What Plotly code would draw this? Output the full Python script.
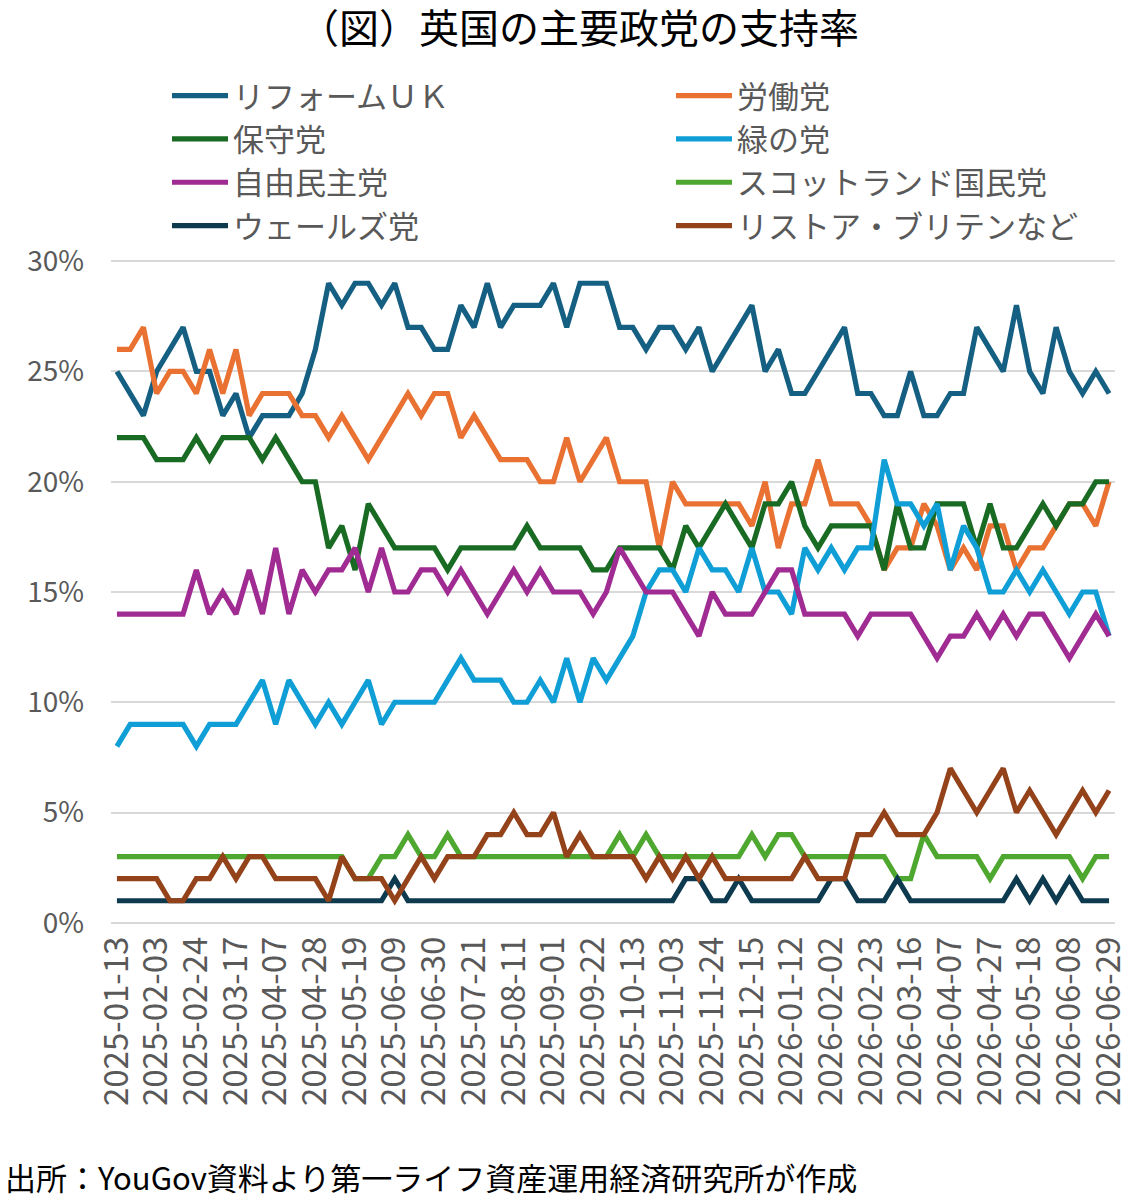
import plotly.graph_objects as go

dates = [
    "2025-01-13", "2025-01-20", "2025-01-27", "2025-02-03", "2025-02-10", "2025-02-17",
    "2025-02-24", "2025-03-03", "2025-03-10", "2025-03-17", "2025-03-24", "2025-03-31",
    "2025-04-07", "2025-04-14", "2025-04-21", "2025-04-28", "2025-05-05", "2025-05-12",
    "2025-05-19", "2025-05-26", "2025-06-02", "2025-06-09", "2025-06-16", "2025-06-23",
    "2025-06-30", "2025-07-07", "2025-07-14", "2025-07-21", "2025-07-28", "2025-08-04",
    "2025-08-11", "2025-08-18", "2025-08-25", "2025-09-01", "2025-09-08", "2025-09-15",
    "2025-09-22", "2025-09-29", "2025-10-06", "2025-10-13", "2025-10-20", "2025-10-27",
    "2025-11-03", "2025-11-10", "2025-11-17", "2025-11-24", "2025-12-01", "2025-12-08",
    "2025-12-15", "2025-12-22", "2026-01-05", "2026-01-12", "2026-01-19", "2026-01-26",
    "2026-02-02", "2026-02-09", "2026-02-16", "2026-02-23", "2026-03-02", "2026-03-09",
    "2026-03-16", "2026-03-23", "2026-03-30", "2026-04-07", "2026-04-13", "2026-04-20",
    "2026-04-27", "2026-05-04", "2026-05-11", "2026-05-18", "2026-05-25", "2026-06-01",
    "2026-06-08", "2026-06-15", "2026-06-22", "2026-06-29",
]

reform_uk = [25, 24, 23, 25, 26, 27, 25, 25, 23, 24, 22, 23, 23, 23, 24, 26, 29, 28, 29,
             29, 28, 29, 27, 27, 26, 26, 28, 27, 29, 27, 28, 28, 28, 29, 27, 29, 29, 29,
             27, 27, 26, 27, 27, 26, 27, 25, 26, 27, 28, 25, 26, 24, 24, 25, 26, 27, 24,
             24, 23, 23, 25, 23, 23, 24, 24, 27, 26, 25, 28, 25, 24, 27, 25, 24, 25, 24]
labour = [26, 26, 27, 24, 25, 25, 24, 26, 24, 26, 23, 24, 24, 24, 23, 23, 22, 23, 22,
          21, 22, 23, 24, 23, 24, 24, 22, 23, 22, 21, 21, 21, 20, 20, 22, 20, 21, 22,
          20, 20, 20, 17, 20, 19, 19, 19, 19, 19, 18, 20, 17, 19, 19, 21, 19, 19, 19,
          18, 16, 17, 17, 19, 18, 16, 17, 16, 18, 18, 16, 17, 17, 18, 19, 19, 18, 20]
conservative = [22, 22, 22, 21, 21, 21, 22, 21, 22, 22, 22, 21, 22, 21, 20, 20, 17, 18, 16,
                19, 18, 17, 17, 17, 17, 16, 17, 17, 17, 17, 17, 18, 17, 17, 17, 17, 16, 16,
                17, 17, 17, 17, 16, 18, 17, 18, 19, 18, 17, 19, 19, 20, 18, 17, 18, 18, 18,
                18, 16, 19, 17, 17, 19, 19, 19, 17, 19, 17, 17, 18, 19, 18, 19, 19, 20, 20]
green = [8, 9, 9, 9, 9, 9, 8, 9, 9, 9, 10, 11, 9, 11, 10, 9, 10, 9, 10,
         11, 9, 10, 10, 10, 10, 11, 12, 11, 11, 11, 10, 10, 11, 10, 12, 10, 12, 11,
         12, 13, 15, 16, 16, 15, 17, 16, 16, 15, 17, 15, 15, 14, 17, 16, 17, 16, 17,
         17, 21, 19, 19, 18, 19, 16, 18, 17, 15, 15, 16, 15, 16, 15, 14, 15, 15, 13]
lib_dem = [14, 14, 14, 14, 14, 14, 16, 14, 15, 14, 16, 14, 17, 14, 16, 15, 16, 16, 17,
           15, 17, 15, 15, 16, 16, 15, 16, 15, 14, 15, 16, 15, 16, 15, 15, 15, 14, 15,
           17, 16, 15, 15, 15, 14, 13, 15, 14, 14, 14, 15, 16, 16, 14, 14, 14, 14, 13,
           14, 14, 14, 14, 13, 12, 13, 13, 14, 13, 14, 13, 14, 14, 13, 12, 13, 14, 13]
snp = [3, 3, 3, 3, 3, 3, 3, 3, 3, 3, 3, 3, 3, 3, 3, 3, 3, 3, 2,
       2, 3, 3, 4, 3, 3, 4, 3, 3, 3, 3, 3, 3, 3, 3, 3, 3, 3, 3,
       4, 3, 4, 3, 3, 3, 3, 3, 3, 3, 4, 3, 4, 4, 3, 3, 3, 3, 3,
       3, 3, 2, 2, 4, 3, 3, 3, 3, 2, 3, 3, 3, 3, 3, 3, 2, 3, 3]
plaid = [1, 1, 1, 1, 1, 1, 1, 1, 1, 1, 1, 1, 1, 1, 1, 1, 1, 1, 1,
         1, 1, 2, 1, 1, 1, 1, 1, 1, 1, 1, 1, 1, 1, 1, 1, 1, 1, 1,
         1, 1, 1, 1, 1, 2, 2, 1, 1, 2, 1, 1, 1, 1, 1, 1, 2, 2, 1,
         1, 1, 2, 1, 1, 1, 1, 1, 1, 1, 1, 2, 1, 2, 1, 2, 1, 1, 1]
restore_etc = [2, 2, 2, 2, 1, 1, 2, 2, 3, 2, 3, 3, 2, 2, 2, 2, 1, 3, 2,
               2, 2, 1, 2, 3, 2, 3, 3, 3, 4, 4, 5, 4, 4, 5, 3, 4, 3, 3,
               3, 3, 2, 3, 2, 3, 2, 3, 2, 2, 2, 2, 2, 2, 3, 2, 2, 2, 4,
               4, 5, 4, 4, 4, 5, 7, 6, 5, 6, 7, 5, 6, 5, 4, 5, 6, 5, 6]

series_names = ["リフォームＵＫ", "労働党", "保守党", "緑の党", "自由民主党",
                "スコットランド国民党", "ウェールズ党", "リストア・ブリテンなど"]
series_values = [reform_uk, labour, conservative, green, lib_dem, snp, plaid, restore_etc]
series_colors = ["#156082", "#E97132", "#196B24", "#0F9ED5", "#A02B93",
                 "#4EA72E", "#0D3A4E", "#93421A"]

y_tickvals = [0, 5, 10, 15, 20, 25, 30]
y_ticktext = ["0%", "5%", "10%", "15%", "20%", "25%", "30%"]
x_tickvals = dates[::3]

FONT = "Noto Sans CJK JP"

fig = go.Figure()
for k, (name, vals, col) in enumerate(zip(series_names, series_values, series_colors)):
    fig.add_trace(go.Scatter(
        x=dates, y=vals, name=name, mode="lines",
        line=dict(color=col, width=5.2, shape="linear"),
        legend="legend" if k % 2 == 0 else "legend2",
    ))

legend_common = dict(orientation="v", yanchor="top", xanchor="left", itemwidth=56,
                     font=dict(family=FONT, size=31, color="#595959"),
                     bgcolor="rgba(0,0,0,0)", traceorder="normal", tracegroupgap=0)

fig.update_layout(
    width=1128, height=1197,
    margin=dict(l=111, r=13, t=259, b=272, autoexpand=False),
    paper_bgcolor="white", plot_bgcolor="white",
    font=dict(family=FONT, color="#595959"),
    title=dict(text="（図）英国の主要政党の支持率", x=579 / 1128, xanchor="center",
               y=1 - 29 / 1197, yanchor="middle", yref="container", xref="container",
               font=dict(family=FONT, size=40, color="#000000")),
    showlegend=True,
    legend=dict(x=(167 - 111) / 1004, y=(925 - 69) / 666, **legend_common),
    legend2=dict(x=(671 - 111) / 1004, y=(925 - 69) / 666, **legend_common),
    xaxis=dict(type="category", range=[-0.45, len(dates) - 0.55], automargin=False,
               tickmode="array", tickvals=x_tickvals, ticktext=x_tickvals,
               tickangle=-90, tickfont=dict(family=FONT, size=33, color="#595959"),
               showgrid=False, showline=False, zeroline=False, ticks="",
               ticklabelstandoff=4),
    yaxis=dict(range=[-0.1, 30.1], automargin=False,
               tickmode="array", tickvals=y_tickvals, ticktext=y_ticktext,
               tickfont=dict(family=FONT, size=28, color="#595959"),
               showgrid=True, gridcolor="#D9D9D9", gridwidth=1.5,
               zeroline=False, showline=False, ticks="", ticklabelstandoff=26),
    annotations=[dict(text="出所：YouGov資料より第一ライフ資産運用経済研究所が作成",
                      xref="paper", yref="paper", x=(3 - 111) / 1004, y=(925 - 1176) / 666,
                      xanchor="left", yanchor="middle", showarrow=False,
                      font=dict(family=FONT, size=31, color="#000000"))],
)

fig.write_html("out.html")
